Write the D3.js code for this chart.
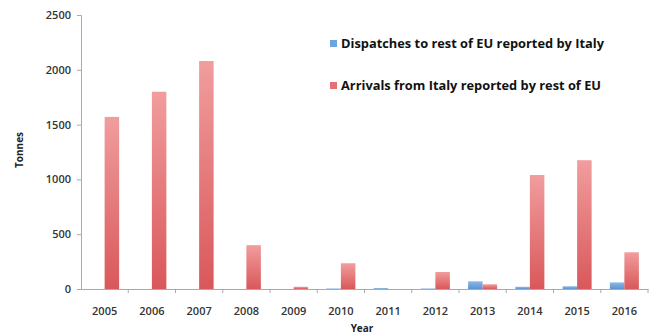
<!DOCTYPE html>
<html>
<head>
<meta charset="utf-8">
<script src="https://cdn.jsdelivr.net/npm/d3@7"></script>
<style>
  body { margin: 0; background: #fff; }
  svg text { font-family: "Open Sans", "Liberation Sans", sans-serif; }
</style>
</head>
<body>
<div id="chart"></div>
<script>
// --- Data ---
const years = ['2005', '2006', '2007', '2008', '2009', '2010', '2011', '2012', '2013', '2014', '2015', '2016'];
const dispatches = [0, 0, 0, 0, 0, 5, 8, 5, 70, 20, 25, 60];
const arrivals = [1570, 1800, 2080, 400, 20, 235, 0, 155, 43, 1040, 1175, 335];
const seriesNames = ['Dispatches to rest of EU reported by Italy', 'Arrivals from Italy reported by rest of EU'];
const yTicks = [0, 500, 1000, 1500, 2000, 2500];

const W = 661, H = 336;
const margin = { top: 15, right: 13, bottom: 47, left: 81 };
const width = W - margin.left - margin.right;
const height = H - margin.top - margin.bottom;

const svg = d3.select('#chart').append('svg')
    .attr('width', W)
    .attr('height', H)
    .append('g')
    .attr('transform', `translate(${margin.left},${margin.top})`);

// --- Scales ---
const x = d3.scaleBand().domain(years).range([0, width]);
const y = d3.scaleLinear().domain([0, 2500]).range([height, 0]);
const barW = 14.5;

// gradients
const defs = svg.append('defs');
function grad(id, top, bottom) {
    const g = defs.append('linearGradient').attr('id', id)
        .attr('x1', 0).attr('y1', 0).attr('x2', 0).attr('y2', 1);
    g.append('stop').attr('offset', '0%').attr('stop-color', top);
    g.append('stop').attr('offset', '100%').attr('stop-color', bottom);
}
grad('g-red', '#f19d9e', '#d9585a');
grad('g-blue', '#8ab8e8', '#5b93d2');

// --- Bars ---
svg.selectAll('.bar-d')
    .data(years.map((yr, i) => ({ yr, v: dispatches[i] })))
    .enter().append('rect')
    .attr('x', d => x(d.yr) + x.bandwidth() / 2 - barW)
    .attr('y', d => y(d.v))
    .attr('width', barW)
    .attr('height', d => height - y(d.v))
    .attr('fill', 'url(#g-blue)');

svg.selectAll('.bar-a')
    .data(years.map((yr, i) => ({ yr, v: arrivals[i] })))
    .enter().append('rect')
    .attr('x', d => x(d.yr) + x.bandwidth() / 2)
    .attr('y', d => y(d.v))
    .attr('width', barW)
    .attr('height', d => height - y(d.v))
    .attr('fill', 'url(#g-red)');

// --- Axes ---
const yAxis = svg.append('g')
    .call(d3.axisLeft(y).tickValues(yTicks).tickFormat(d3.format('d')).tickSize(4).tickPadding(6));
yAxis.select('.domain').attr('stroke', '#aaa');
yAxis.selectAll('.tick line').attr('stroke', '#aaa');
yAxis.selectAll('.tick text').attr('font-size', 11).attr('fill', '#333').attr('font-weight', 600);

const xAxis = svg.append('g')
    .attr('transform', `translate(0,${height})`)
    .call(d3.axisBottom(x).tickSize(0).tickPadding(18));
xAxis.select('.domain').attr('stroke', '#aaa');
xAxis.selectAll('.tick text').attr('font-size', 11).attr('fill', '#333').attr('font-weight', 600);

// boundary tick marks
svg.append('g')
    .selectAll('line')
    .data(years.slice(1).concat(['end']))
    .enter().append('line')
    .attr('x1', d => d === 'end' ? width : x(d))
    .attr('x2', d => d === 'end' ? width : x(d))
    .attr('y1', height)
    .attr('y2', height + 4)
    .attr('stroke', '#aaa');

// --- Axis labels ---
svg.append('text')
    .attr('x', 362 - margin.left)
    .attr('y', height + 43)
    .attr('text-anchor', 'middle')
    .attr('font-size', 10)
    .attr('font-weight', 'bold')
    .attr('fill', '#222')
    .text('Year');

svg.append('text')
    .attr('transform', `translate(${23 - margin.left},${150 - margin.top}) rotate(-90)`)
    .attr('text-anchor', 'middle')
    .attr('font-size', 10)
    .attr('font-weight', 'bold')
    .attr('fill', '#222')
    .text('Tonnes');

// --- Legend ---
const legend = svg.append('g')
    .attr('transform', `translate(${330 - margin.left},${40 - margin.top})`);
const legColors = ['#6fa3dc', '#e47375'];
const legLen = [263, 260];
seriesNames.forEach((name, i) => {
    const g = legend.append('g').attr('transform', `translate(0,${i * 42})`);
    g.append('rect').attr('x', 0).attr('y', 0).attr('width', 7).attr('height', 7).attr('fill', legColors[i]);
    g.append('text')
        .attr('x', 11)
        .attr('y', 8)
        .attr('font-size', 12)
        .attr('font-weight', 'bold')
        .attr('fill', '#111')
        .attr('textLength', legLen[i])
        .attr('lengthAdjust', 'spacingAndGlyphs')
        .text(name);
});
</script>
</body>
</html>
